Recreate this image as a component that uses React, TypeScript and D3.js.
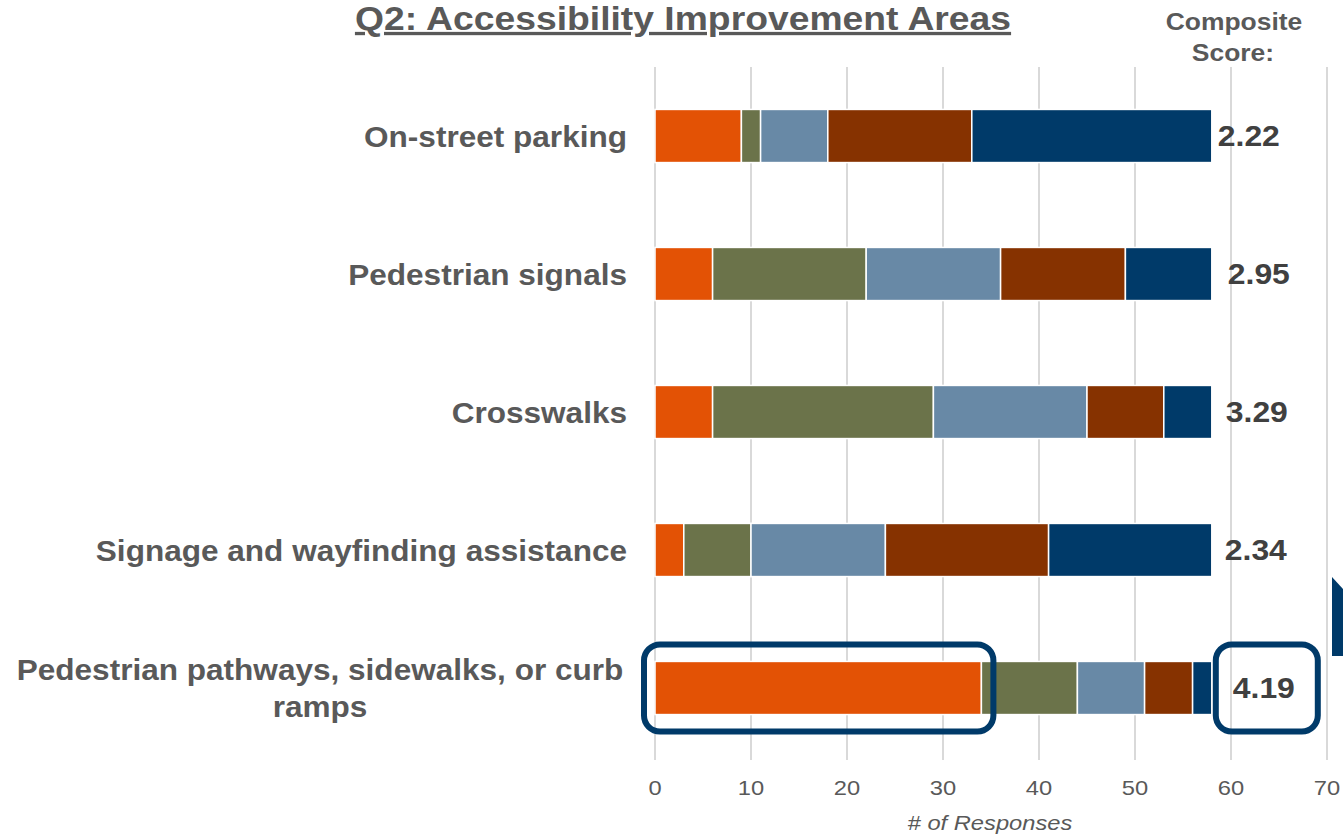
import React from 'react';
import * as d3 from 'd3';

// Q2 survey results: responses per rating level for each accessibility area
const categories = [
  'On-street parking',
  'Pedestrian signals',
  'Crosswalks',
  'Signage and wayfinding assistance',
  'Pedestrian pathways, sidewalks, or curb ramps',
];
const labelLines = [
  ['On-street parking'],
  ['Pedestrian signals'],
  ['Crosswalks'],
  ['Signage and wayfinding assistance'],
  ['Pedestrian pathways, sidewalks, or curb', 'ramps'],
];
const rating1 = [9, 6, 6, 3, 34];
const rating2 = [2, 16, 23, 7, 10];
const rating3 = [7, 14, 16, 14, 7];
const rating4 = [15, 13, 8, 17, 5];
const rating5 = [25, 9, 5, 17, 2];
const scores = ['2.22', '2.95', '3.29', '2.34', '4.19'];
const xTicks = [0, 10, 20, 30, 40, 50, 60, 70];

const colors = ['#E35205', '#6B734A', '#6889A6', '#863200', '#003A69'];
const navy = '#003A69';
const grey = '#595959';
const font = '"Liberation Sans", Arial, sans-serif';

const width = 1343;
const height = 837;
const SX = 1.13; // the original text is drawn a bit wide

// text stretched horizontally around its anchor point
function WideText(props: any) {
  const { x, y, sx = SX, children, ...rest } = props;
  return (
    <text transform={`translate(${x},${y}) scale(${sx},1)`} {...rest}>
      {children}
    </text>
  );
}

function App() {
  const x = d3.scaleLinear().domain([0, 70]).range([655, 1327]);
  const y = d3
    .scaleBand()
    .domain(categories)
    .range([67, 757])
    .paddingInner(0.615)
    .paddingOuter(0.3075);

  const rows = categories.map((c, i) => ({
    category: c,
    r1: rating1[i],
    r2: rating2[i],
    r3: rating3[i],
    r4: rating4[i],
    r5: rating5[i],
  }));
  const stack = d3.stack<any>().keys(['r1', 'r2', 'r3', 'r4', 'r5'])(rows);

  const scoreNudge = [-8, 2, 0, -1, 7];
  const last = categories.length - 1;
  const lastTop = y(categories[last])!;
  const lastBottom = lastTop + y.bandwidth();

  return (
    <svg width={width} height={height} style={{ position: 'absolute', left: 0, top: 0 }} fontFamily={font}>
      <rect width={width} height={height} fill="#fff" />

      {/* title */}
      <WideText x={683} y={30} textAnchor="middle" fontSize={33} fontWeight="bold" fill={grey} textDecoration="underline">
        Q2: Accessibility Improvement Areas
      </WideText>
      <WideText x={1234} y={30} sx={1.15} textAnchor="middle" fontSize={23} fontWeight="bold" fill={grey}>Composite</WideText>
      <WideText x={1233} y={61} sx={1.15} textAnchor="middle" fontSize={23} fontWeight="bold" fill={grey}>Score:</WideText>

      {/* gridlines */}
      {xTicks.map((t) => (
        <line key={t} x1={x(t)} x2={x(t)} y1={67} y2={760} stroke="#d9d9d9" strokeWidth={2} />
      ))}

      {/* stacked bars */}
      {stack.map((series, si) =>
        series.map((d, i) => (
          <rect
            key={si + '-' + i}
            x={x(d[0])}
            y={y(categories[i])}
            width={x(d[1]) - x(d[0])}
            height={y.bandwidth()}
            fill={colors[si]}
            stroke="#fff"
            strokeWidth={1.5}
          />
        ))
      )}

      {/* category labels */}
      {labelLines.map((lines, i) => {
        const cy = y(categories[i])! + y.bandwidth() / 2;
        if (lines.length === 1) {
          return (
            <WideText key={i} x={627} y={cy + 11} sx={1.07} textAnchor="end" fontSize={29.5} fontWeight="bold" fill={grey}>
              {lines[0]}
            </WideText>
          );
        }
        return lines.map((l, j) => (
          <WideText key={i + '-' + j} x={320} y={cy - 8 + j * 37} sx={1.07} textAnchor="middle" fontSize={29.5} fontWeight="bold" fill={grey}>
            {l}
          </WideText>
        ));
      })}

      {/* composite scores */}
      {scores.map((s, i) => (
        <WideText
          key={s}
          x={x(58) + 14 + scoreNudge[i]}
          y={y(categories[i])! + y.bandwidth() / 2 + 10}
          sx={1.1}
          fontSize={29}
          fontWeight="bold"
          fill="#404040"
        >
          {s}
        </WideText>
      ))}

      {/* highlight boxes */}
      <rect x={x(0) - 11} y={lastTop - 17} width={x(34) - x(0) + 23} height={lastBottom - lastTop + 34} rx={16} fill="none" stroke={navy} strokeWidth={6} />
      <rect x={x(58) + 4} y={lastTop - 17} width={102} height={lastBottom - lastTop + 34} rx={16} fill="none" stroke={navy} strokeWidth={6} />
      <polygon points="1332,577 1343,589 1343,656 1332,656" fill={navy} />

      {/* x axis */}
      {xTicks.map((t) => (
        <WideText key={t} x={x(t)} y={795} textAnchor="middle" fontSize={21} fill={grey}>{t}</WideText>
      ))}
      <WideText x={990} y={830} textAnchor="middle" fontSize={21} fontStyle="italic" fill={grey}># of Responses</WideText>
    </svg>
  );
}

export default App;
